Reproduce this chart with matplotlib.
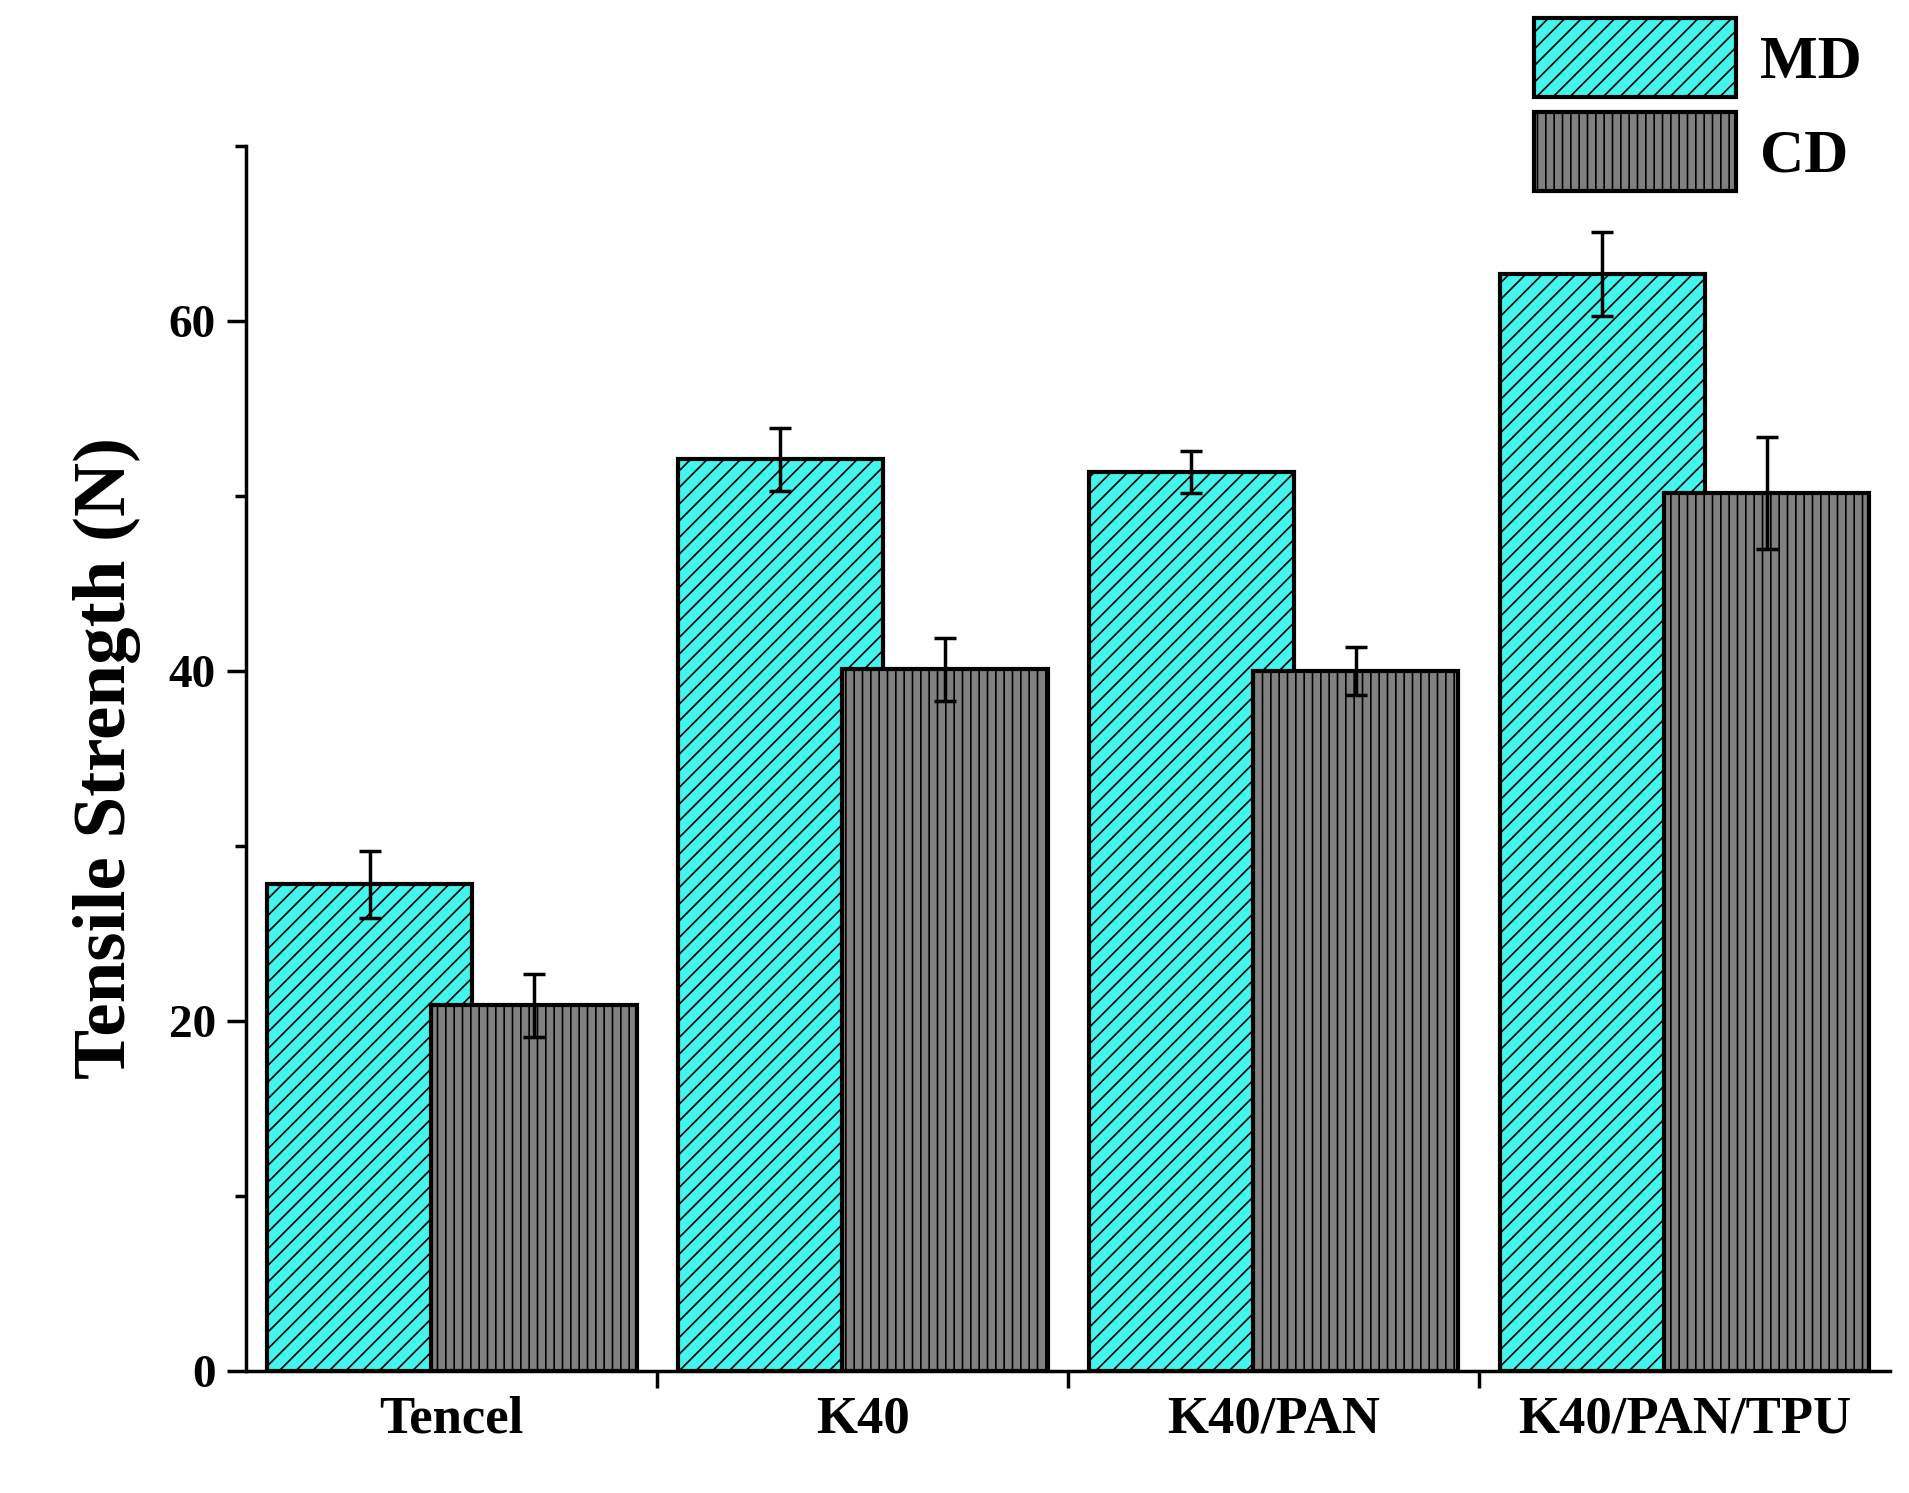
import matplotlib
matplotlib.use("Agg")
import matplotlib.pyplot as plt
import numpy as np

categories = ["Tencel", "K40", "K40/PAN", "K40/PAN/TPU"]
md_vals = [27.8, 52.1, 51.4, 62.7]
md_err = [1.9, 1.8, 1.2, 2.4]
cd_vals = [20.9, 40.1, 40.0, 50.2]
cd_err = [1.8, 1.8, 1.4, 3.2]

plt.rcParams['font.family'] = ['Liberation Serif', 'DejaVu Serif']
plt.rcParams['font.weight'] = 'bold'
plt.rcParams['hatch.linewidth'] = 1.2
plt.rcParams['hatch.color'] = '#333333'

fig = plt.figure(figsize=(19.09, 14.93), dpi=100)
ax = fig.add_axes([0.129, 0.082, 0.861, 0.82])
x = np.arange(len(categories))
w = 0.5
b1 = ax.bar(x - 0.2, md_vals, w, color='#44F5EE', edgecolor='black', linewidth=3,
            hatch='//', yerr=md_err, capsize=8, error_kw=dict(elinewidth=2.5, capthick=2.5), label='MD', zorder=2)
b2 = ax.bar(x + 0.2, cd_vals, w, color='#808080', edgecolor='black', linewidth=3,
            hatch='||', yerr=cd_err, capsize=8, error_kw=dict(elinewidth=2.5, capthick=2.5), label='CD', zorder=3)

ax.set_xlim(-0.5, 3.5)
ax.set_ylim(0, 70)
ax.set_yticks([0, 20, 40, 60])
ax.set_yticks([10, 30, 50, 70], minor=True)
ax.set_xticks(x)
ax.set_xticklabels(categories, fontsize=38, fontweight='bold')
ax.set_xticks([0.5, 1.5, 2.5], minor=True)
ax.tick_params(axis='x', which='major', length=0, pad=18)
ax.tick_params(axis='x', which='minor', length=12, width=2.5, direction='out')
ax.tick_params(axis='y', which='major', length=14, width=2.5, labelsize=34, pad=8)
ax.tick_params(axis='y', which='minor', length=8, width=2.5)
for l in ax.get_yticklabels():
    l.set_fontweight('bold')
for s in ['top', 'right']:
    ax.spines[s].set_visible(False)
for s in ['left', 'bottom']:
    ax.spines[s].set_linewidth(2.5)
ax.set_ylabel('Tensile Strength (N)', fontsize=54, fontweight='bold', labelpad=20)

leg = fig.legend(handles=[b1, b2], loc='upper right', bbox_to_anchor=(0.985, 1.0),
                 borderaxespad=0.1, borderpad=0.2,
                 frameon=False, handlelength=3.3, handleheight=1.6,
                 labelspacing=0.25, handletextpad=0.4, prop={'weight': 'bold', 'size': 44})
fig.savefig('out.png', dpi=100)
